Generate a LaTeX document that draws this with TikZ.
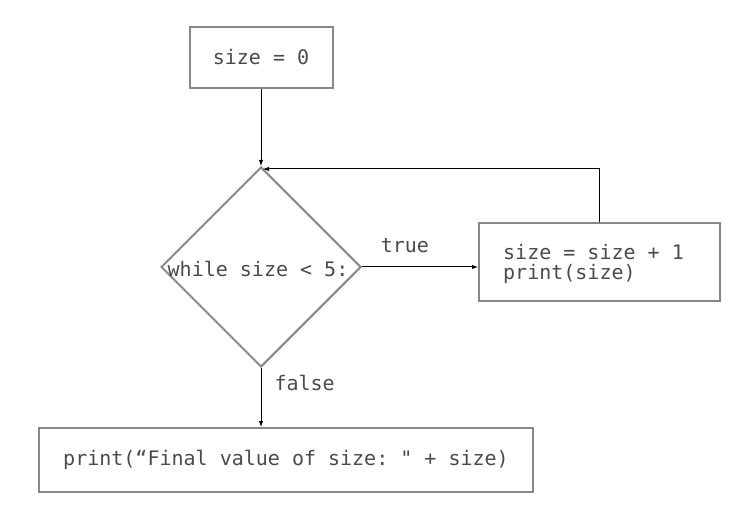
\documentclass[tikz,border=0pt]{standalone}
\usepackage{fontspec}
\setmonofont{DejaVu Sans Mono}
\usetikzlibrary{shapes.geometric,arrows.meta}
\definecolor{boxgray}{HTML}{888888}
\definecolor{txtgray}{HTML}{4A4A4A}
\tikzset{
  codebox/.style={draw=boxgray, line width=2pt, rectangle, inner sep=0pt, text=txtgray},
  codetext/.style={text=txtgray, inner sep=0pt},
  flow/.style={draw=black, line width=1pt, -{Latex[length=6pt,width=4.5pt]}},
  lbl/.style={text=txtgray, inner sep=0pt}
}
\begin{document}
\begin{tikzpicture}[x=1pt,y=-1pt,font=\ttfamily\fontsize{20}{20}\selectfont]
\useasboundingbox (0,0) rectangle (747,529);
\node[codebox, minimum width=143pt, minimum height=61pt] (top) at (261,57.5) {size = 0};
\node[diamond, draw=boxgray, line width=2pt, minimum width=200pt, minimum height=200pt, inner sep=0pt] (d) at (261,267) {};
\node[codetext] (dt) at (258,268.5) {while size < 5:};
\node[codebox, minimum width=241pt, minimum height=78pt] (rb) at (599.5,262.5) {};
\node[codetext, anchor=west, align=left] (rbt) at (503,264) {size = size + 1\\print(size)};
\node[codebox, minimum width=494pt, minimum height=64pt] (bb) at (286,460) {print(“Final value of size: " + size)};
\coordinate (lt) at (263,169);
\draw[flow] (top.south) -- (d.north);
\draw[flow] (d.east) -- node[lbl, pos=0.37, anchor=base, yshift=14pt] {true} (d.east -| rb.west);
\draw[flow] (d.south) -- node[lbl, pos=0.26, anchor=west, xshift=13pt] {false} (d.south |- bb.north);
\draw[flow] (rb.north) |- (lt);
\end{tikzpicture}
\end{document}
